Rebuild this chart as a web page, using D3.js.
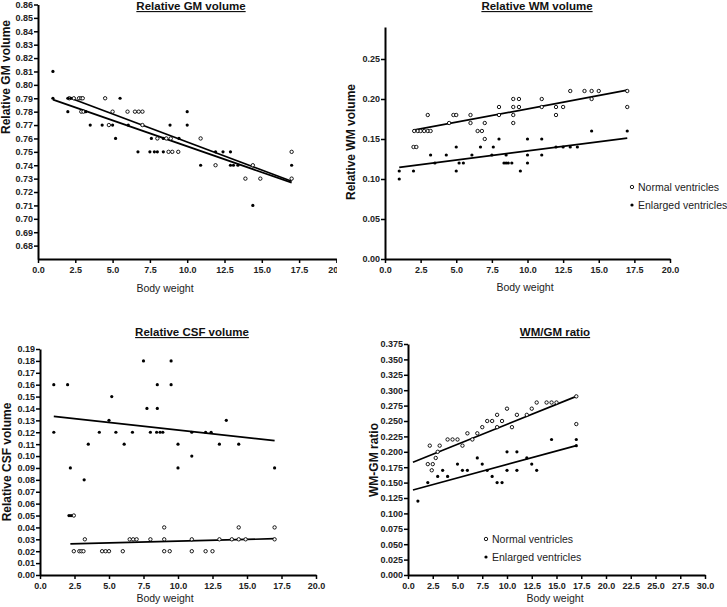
<!DOCTYPE html>
<html><head><meta charset="utf-8">
<script src="https://cdn.jsdelivr.net/npm/d3@7"></script>
<style>
html,body{margin:0;padding:0;background:#fff;}
svg{display:block;font-family:"Liberation Sans",Arial,sans-serif;}
</style></head>
<body>
<svg id="c" width="727" height="607"></svg>
<script>
// ---------------- DATA ----------------
const panelTitles = ["Relative GM volume","Relative WM volume","Relative CSF volume","WM/GM ratio"];
const yTitles = ["Relative GM volume","Relative WM volume","Relative CSF volume","WM-GM ratio"];
const xTitle = "Body weight";
const legendLabels = ["Normal ventricles","Enlarged ventricles"];

const xTicks20 = [0,2.5,5,7.5,10,12.5,15,17.5,20];
const xTicks30 = [0,2.5,5,7.5,10,12.5,15,17.5,20,22.5,25,27.5,30];
const gmTicks = [0.68,0.69,0.70,0.71,0.72,0.73,0.74,0.75,0.76,0.77,0.78,0.79,0.80,0.81,0.82,0.83,0.84,0.85,0.86];
const wmTicks = [0,0.05,0.10,0.15,0.20,0.25];
const csfTicks = [0,0.01,0.02,0.03,0.04,0.05,0.06,0.07,0.08,0.09,0.10,0.11,0.12,0.13,0.14,0.15,0.16,0.17,0.18,0.19];
const ratioTicks = [0,0.025,0.05,0.075,0.1,0.125,0.15,0.175,0.2,0.225,0.25,0.275,0.3,0.325,0.35,0.375];

// Relative GM volume
const gmNormal = [[2.1,0.79],[2.4,0.79],[2.75,0.79],[2.9,0.79],[3.0,0.79],[4.5,0.79],[2.9,0.78],[3.05,0.78],[5.0,0.78],[6.0,0.78],[6.5,0.78],[6.75,0.78],[7.0,0.78],[4.75,0.77],[7.0,0.77],[8.0,0.76],[8.6,0.76],[8.9,0.76],[10.9,0.76],[8.75,0.75],[9.0,0.75],[9.4,0.75],[17.0,0.75],[11.9,0.74],[14.4,0.74],[13.9,0.73],[14.9,0.73],[17.0,0.73]];
const gmEnlarged = [[1.0,0.81],[1.0,0.79],[2.0,0.79],[2.2,0.79],[5.5,0.79],[2.0,0.78],[3.2,0.78],[10.0,0.78],[3.5,0.77],[4.3,0.77],[5.0,0.77],[6.05,0.77],[8.85,0.77],[10.0,0.77],[5.2,0.76],[7.6,0.76],[8.4,0.76],[9.45,0.76],[6.7,0.75],[7.5,0.75],[7.8,0.75],[8.0,0.75],[8.4,0.75],[11.9,0.75],[12.4,0.75],[12.9,0.75],[10.9,0.74],[12.9,0.74],[13.1,0.74],[13.4,0.74],[17.0,0.74],[14.4,0.71]];
const gmFitNormal = [[2.2,0.790],[17.0,0.728]];
const gmFitEnlarged = [[1.0,0.789],[17.0,0.727]];

// Relative WM volume
const wmNormal = [[2.0,0.14],[2.2,0.14],[2.05,0.16],[2.3,0.16],[2.5,0.16],[2.75,0.16],[3.0,0.16],[3.2,0.16],[3.0,0.18],[4.5,0.17],[4.8,0.18],[5.0,0.18],[6.0,0.18],[6.0,0.17],[6.5,0.16],[6.8,0.16],[7.0,0.17],[7.0,0.15],[8.0,0.19],[8.0,0.18],[9.0,0.20],[9.4,0.20],[9.0,0.19],[9.4,0.19],[9.0,0.18],[9.0,0.17],[11.0,0.20],[11.0,0.19],[12.0,0.19],[12.5,0.19],[12.0,0.18],[13.0,0.21],[14.0,0.21],[14.5,0.21],[15.0,0.21],[14.5,0.20],[17.0,0.21],[17.0,0.19]];
const wmEnlarged = [[1.0,0.11],[1.0,0.10],[2.0,0.11],[3.2,0.13],[3.5,0.12],[4.3,0.13],[5.0,0.11],[5.0,0.14],[5.2,0.12],[5.5,0.12],[6.1,0.13],[6.7,0.14],[7.5,0.13],[7.6,0.14],[8.0,0.15],[8.35,0.12],[8.5,0.13],[8.5,0.12],[8.65,0.12],[8.9,0.12],[9.5,0.11],[10.0,0.15],[10.0,0.13],[10.0,0.12],[11.0,0.15],[11.0,0.13],[12.0,0.14],[12.5,0.14],[13.0,0.14],[13.5,0.14],[14.5,0.16],[17.0,0.16]];
const wmFitNormal = [[2.0,0.161],[17.0,0.211]];
const wmFitEnlarged = [[1.0,0.1146],[17.0,0.151]];

// Relative CSF volume
const csfNormal = [[9.0,0.04],[14.4,0.04],[17.0,0.04],[3.25,0.03],[6.5,0.03],[6.75,0.03],[7.0,0.03],[8.0,0.03],[9.0,0.03],[11.0,0.03],[13.0,0.03],[13.9,0.03],[14.4,0.03],[14.9,0.03],[17.0,0.03],[2.45,0.02],[2.85,0.02],[3.0,0.02],[3.15,0.02],[4.5,0.02],[4.75,0.02],[5.0,0.02],[6.0,0.02],[9.0,0.02],[9.4,0.02],[11.0,0.02],[12.0,0.02],[12.5,0.02],[2.45,0.05]];
const csfEnlarged = [[1.0,0.16],[2.0,0.16],[1.0,0.12],[7.5,0.18],[9.5,0.18],[8.5,0.16],[9.5,0.16],[5.2,0.15],[7.75,0.14],[8.5,0.14],[5.0,0.13],[13.5,0.13],[4.3,0.12],[5.5,0.12],[6.7,0.12],[8.0,0.12],[8.45,0.12],[8.7,0.12],[8.9,0.12],[11.0,0.12],[12.0,0.12],[12.4,0.12],[3.5,0.11],[6.1,0.11],[10.0,0.11],[13.0,0.11],[14.4,0.11],[11.0,0.10],[2.2,0.09],[10.0,0.09],[17.0,0.09],[3.2,0.08],[2.1,0.05],[2.25,0.05]];
const csfFitNormal = [[2.2,0.0261],[17.0,0.0305]];
const csfFitEnlarged = [[1.0,0.1334],[17.0,0.1129]];

// WM/GM ratio
const ratioNormal = [[2.0,0.18],[2.2,0.21],[2.4,0.17],[2.5,0.18],[2.8,0.19],[3.0,0.20],[3.2,0.21],[4.0,0.22],[4.5,0.22],[5.0,0.22],[5.5,0.21],[6.0,0.23],[6.5,0.22],[7.0,0.23],[7.5,0.24],[8.0,0.25],[8.5,0.25],[9.0,0.24],[9.0,0.26],[9.5,0.25],[10.0,0.27],[10.5,0.24],[11.0,0.26],[12.0,0.26],[12.5,0.27],[13.0,0.28],[14.0,0.28],[14.5,0.28],[15.0,0.28],[17.0,0.29],[17.0,0.245]];
const ratioEnlarged = [[1.0,0.12],[2.0,0.15],[3.0,0.16],[3.5,0.17],[4.0,0.16],[5.0,0.18],[5.5,0.17],[6.0,0.17],[7.0,0.19],[7.5,0.18],[8.0,0.17],[8.5,0.16],[9.0,0.15],[9.5,0.15],[10.0,0.17],[10.0,0.20],[11.0,0.17],[11.0,0.20],[12.0,0.19],[12.5,0.18],[13.0,0.17],[14.5,0.22],[17.0,0.21],[17.0,0.22]];
const ratioFitNormal = [[0.5,0.183],[17.0,0.29]];
const ratioFitEnlarged = [[0.5,0.138],[17.0,0.21]];

// ---------------- DRAW ----------------
const svg = d3.select("#c");
const defs = svg.append("defs");

const panels = [
  {title:panelTitles[0], ytitle:yTitles[0], xr:[38,336.4], yr:[259,4.5], xd:[0,20], yd:[0.67,0.86], xt:xTicks20, yt:gmTicks, yf:".2f",
   normal:gmNormal, enlarged:gmEnlarged, fitN:gmFitNormal, fitE:gmFitEnlarged,
   tx:191, ty:10, ytx:10, yty:77, bx:165, by:292, clip:[0,0,337,300]},
  {title:panelTitles[1], ytitle:yTitles[1], xr:[385,670], yr:[259,27], xd:[0,20], yd:[0,0.29], xt:xTicks20, yt:wmTicks, yf:".2f",
   normal:wmNormal, enlarged:wmEnlarged, fitN:wmFitNormal, fitE:wmFitEnlarged,
   tx:537, ty:10, ytx:355, yty:142, bx:525, by:291, legend:[632,187]},
  {title:panelTitles[2], ytitle:yTitles[2], xr:[40,316], yr:[575,349], xd:[0,20], yd:[0,0.19], xt:xTicks20, yt:csfTicks, yf:".2f",
   normal:csfNormal, enlarged:csfEnlarged, fitN:csfFitNormal, fitE:csfFitEnlarged,
   tx:192, ty:336, ytx:11, yty:462, bx:165, by:602},
  {title:panelTitles[3], ytitle:yTitles[3], xr:[408,705], yr:[575,344], xd:[0,30], yd:[0,0.375], xt:xTicks30, yt:ratioTicks, yf:".3f",
   normal:ratioNormal, enlarged:ratioEnlarged, fitN:ratioFitNormal, fitE:ratioFitEnlarged,
   tx:555, ty:336, ytx:378, yty:460, bx:555, by:602, legend:[486,539]}
];

panels.forEach((p,i)=>{
  let g = svg.append("g");
  if(p.clip){
    defs.append("clipPath").attr("id","clip"+i).append("rect")
      .attr("x",p.clip[0]).attr("y",p.clip[1]).attr("width",p.clip[2]).attr("height",p.clip[3]);
    g.attr("clip-path","url(#clip"+i+")");
  }
  const x = d3.scaleLinear().domain(p.xd).range(p.xr);
  const y = d3.scaleLinear().domain(p.yd).range(p.yr);

  const yAxis = g.append("g").attr("transform",`translate(${p.xr[0]},0)`)
    .call(d3.axisLeft(y).tickValues(p.yt).tickFormat(d3.format(p.yf)).tickSize(4).tickSizeOuter(0));
  const xAxis = g.append("g").attr("transform",`translate(0,${p.yr[0]})`)
    .call(d3.axisBottom(x).tickValues(p.xt).tickFormat(d3.format(".1f")).tickSize(4).tickSizeOuter(0));
  [yAxis,xAxis].forEach(a=>{
    a.select(".domain").attr("stroke","#000").attr("stroke-width",2);
    a.selectAll(".tick line").attr("stroke","#000").attr("stroke-width",1.5);
    a.selectAll(".tick text").attr("fill","#222").style("font-size","9px").style("font-weight","bold")
      .style("font-family","'Liberation Sans',Arial,sans-serif");
  });
  yAxis.selectAll(".tick text").attr("x",-5);
  xAxis.selectAll(".tick text").attr("y",8);

  const line = d3.line().x(d=>x(d[0])).y(d=>y(d[1]));
  g.append("path").attr("d",line(p.fitN)).attr("stroke","#000").attr("stroke-width",1.7).attr("fill","none");
  g.append("path").attr("d",line(p.fitE)).attr("stroke","#000").attr("stroke-width",1.7).attr("fill","none");

  g.selectAll("circle.n"+i).data(p.normal).enter().append("circle")
    .attr("cx",d=>x(d[0])).attr("cy",d=>y(d[1])).attr("r",1.7)
    .attr("fill","#fff").attr("stroke","#000").attr("stroke-width",0.9);
  g.selectAll("circle.e"+i).data(p.enlarged).enter().append("circle")
    .attr("cx",d=>x(d[0])).attr("cy",d=>y(d[1])).attr("r",1.6)
    .attr("fill","#000");

  // titles
  g.append("text").attr("x",p.tx).attr("y",p.ty).attr("text-anchor","middle")
    .style("font-size","11.5px").style("font-weight","bold").style("text-decoration","underline")
    .attr("fill","#111").text(p.title);
  g.append("text").attr("transform",`translate(${p.ytx},${p.yty}) rotate(-90)`).attr("text-anchor","middle")
    .style("font-size","12px").style("font-weight","bold").attr("fill","#111").text(p.ytitle);
  g.append("text").attr("x",p.bx).attr("y",p.by).attr("text-anchor","middle")
    .style("font-size","10.5px").attr("fill","#222").text(xTitle);

  if(p.legend){
    const [lx,ly]=p.legend;
    g.append("circle").attr("cx",lx).attr("cy",ly).attr("r",1.7).attr("fill","#fff").attr("stroke","#000").attr("stroke-width",0.9);
    g.append("circle").attr("cx",lx).attr("cy",ly+18).attr("r",1.6).attr("fill","#000");
    legendLabels.forEach((t,k)=>{
      g.append("text").attr("x",lx+6).attr("y",ly+k*18+4).style("font-size","10.5px").attr("fill","#222").text(t);
    });
  }
});
</script>
</body></html>
